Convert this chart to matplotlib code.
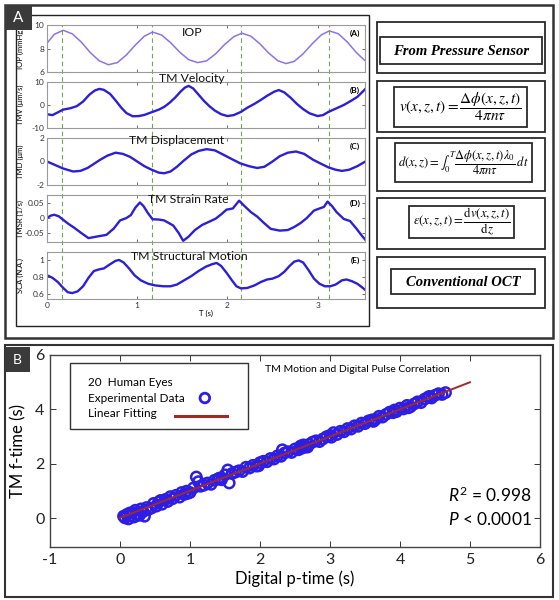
import matplotlib
matplotlib.use('Agg')
import matplotlib.pyplot as plt
from matplotlib.patches import Rectangle

plt.rcParams['font.family'] = ['Lato', 'DejaVu Sans']
plt.rcParams['mathtext.fontset'] = 'stix'
plt.rcParams['mathtext.rm'] = 'Lato'
plt.rcParams['mathtext.it'] = 'Lato:italic'
plt.rcParams['axes.unicode_minus'] = False

# ---------------- data: panel A ----------------
t_iop = [0.00, 0.08, 0.18, 0.28, 0.38, 0.48, 0.58, 0.68, 0.78, 0.88, 0.98, 1.08, 1.17, 1.27, 1.37, 1.47,
         1.57, 1.67, 1.77, 1.87, 1.97, 2.07, 2.16, 2.26, 2.36, 2.46, 2.56, 2.65, 2.74, 2.84, 2.94, 3.04,
         3.13, 3.23, 3.33, 3.43, 3.52]
iop = [8.45, 9.2, 9.55, 9.25, 8.55, 7.65, 6.95, 6.62, 6.8, 7.45, 8.3, 9.05, 9.4, 9.15, 8.5, 7.7,
       7.05, 6.8, 6.95, 7.55, 8.35, 9.0, 9.3, 9.05, 8.4, 7.6, 6.95, 6.72, 6.9, 7.55, 8.4, 9.15,
       9.5, 9.25, 8.55, 7.65, 7.0]

t_tmv = [0.00, 0.06, 0.12, 0.18, 0.26, 0.33, 0.40, 0.47, 0.53, 0.58, 0.63, 0.70, 0.76, 0.82, 0.88, 0.95,
         1.02, 1.08, 1.17, 1.24, 1.30, 1.36, 1.42, 1.48, 1.53, 1.57, 1.62, 1.68, 1.74, 1.80, 1.86, 1.93,
         2.00, 2.07, 2.15, 2.22, 2.30, 2.37, 2.44, 2.52, 2.57, 2.63, 2.70, 2.77, 2.84, 2.91, 3.00, 3.06,
         3.12, 3.20, 3.29, 3.37, 3.44, 3.50, 3.53]
tmv = [-4.0, -4.4, -3.2, -2.0, -1.4, -0.5, 1.5, 4.5, 6.3, 7.0, 6.6, 4.8, 2.0, -1.0, -3.5, -4.9,
       -4.8, -4.3, -3.0, -2.0, -0.8, 1.0, 3.2, 5.8, 7.6, 8.3, 7.2, 4.5, 1.8, -0.5, -2.4, -4.0,
       -4.8, -4.4, -3.0, -1.2, 0.5, 2.2, 4.0, 5.8, 6.5, 5.5, 3.2, 0.5, -1.8, -3.6, -4.8, -4.4,
       -3.0, -1.6, 0.0, 1.8, 3.5, 5.8, 7.0]

t_tmd = [0.00, 0.09, 0.18, 0.29, 0.37, 0.45, 0.52, 0.59, 0.67, 0.76, 0.84, 0.92, 1.00, 1.08, 1.16, 1.24,
         1.30, 1.37, 1.44, 1.52, 1.60, 1.68, 1.77, 1.86, 1.95, 2.05, 2.14, 2.24, 2.33, 2.41, 2.50, 2.58,
         2.67, 2.76, 2.85, 2.95, 3.04, 3.12, 3.20, 3.27, 3.35, 3.44, 3.53]
tmd = [0.0, -0.3, -0.6, -0.85, -0.8, -0.55, -0.2, 0.15, 0.5, 0.75, 0.65, 0.4, 0.0, -0.4, -0.7, -0.95,
       -1.0, -0.85, -0.45, 0.1, 0.6, 0.9, 1.05, 0.95, 0.6, 0.2, -0.15, -0.4, -0.55, -0.45, 0.0, 0.45,
       0.75, 0.85, 0.65, 0.15, -0.2, -0.5, -0.7, -0.8, -0.7, -0.4, 0.0]

t_tmsr = [0.00, 0.04, 0.08, 0.13, 0.18, 0.24, 0.30, 0.38, 0.46, 0.55, 0.66, 0.74, 0.81, 0.88, 0.93, 0.98,
          1.03, 1.07, 1.12, 1.17, 1.24, 1.30, 1.40, 1.46, 1.51, 1.57, 1.64, 1.72, 1.80, 1.87, 1.93, 1.99,
          2.06, 2.13, 2.19, 2.26, 2.33, 2.40, 2.48, 2.58, 2.67, 2.74, 2.81, 2.88, 2.96, 3.03, 3.07, 3.11,
          3.16, 3.21, 3.29, 3.36, 3.43, 3.48, 3.53]
tmsr = [0.0, 0.008, 0.011, 0.006, -0.006, -0.02, -0.032, -0.05, -0.067, -0.062, -0.056, -0.035, -0.008, 0.0, 0.01, 0.035,
        0.052, 0.04, 0.016, -0.004, -0.005, -0.008, -0.025, -0.05, -0.076, -0.062, -0.04, -0.023, -0.012, -0.002, 0.012, 0.028,
        0.032, 0.058, 0.04, 0.02, 0.005, -0.015, -0.036, -0.042, -0.04, -0.03, -0.017, 0.0, 0.025, 0.033, 0.037, 0.055,
        0.04, 0.02, -0.003, -0.01, -0.035, -0.055, -0.073]

t_sca = [0.00, 0.06, 0.12, 0.18, 0.23, 0.28, 0.34, 0.40, 0.46, 0.52, 0.58, 0.63, 0.70, 0.76, 0.80, 0.85,
         0.91, 0.97, 1.04, 1.12, 1.20, 1.29, 1.37, 1.44, 1.52, 1.60, 1.68, 1.76, 1.83, 1.88, 1.93, 1.99,
         2.05, 2.10, 2.15, 2.22, 2.30, 2.37, 2.44, 2.50, 2.57, 2.63, 2.69, 2.74, 2.79, 2.84, 2.90, 2.96,
         3.02, 3.08, 3.14, 3.20, 3.27, 3.32, 3.38, 3.44, 3.49, 3.53]
sca = [0.82, 0.79, 0.74, 0.67, 0.62, 0.61, 0.63, 0.69, 0.79, 0.87, 0.89, 0.9, 0.95, 0.99, 1.0, 0.97,
       0.9, 0.82, 0.76, 0.72, 0.7, 0.69, 0.69, 0.71, 0.76, 0.81, 0.87, 0.92, 0.95, 0.965, 0.93, 0.85,
       0.76, 0.69, 0.665, 0.67, 0.7, 0.74, 0.77, 0.78, 0.81, 0.86, 0.93, 0.98, 0.995, 0.97, 0.88, 0.78,
       0.72, 0.69, 0.69, 0.71, 0.76, 0.77, 0.75, 0.72, 0.68, 0.645]

pulse_times = [0.17, 1.16, 2.15, 3.13]

titles = ['IOP', 'TM Velocity', 'TM Displacement', 'TM Strain Rate', 'TM Structural Motion']
ylabels = ['IOP (mmHg)', 'TMV (\u03bcm/s)', 'TMD (\u03bcm)', 'TMSR (1/s)', 'SCA (N.A.)']
tags = ['(A)', '(B)', '(C)', '(D)', '(E)']
yticks = [[6, 8, 10], [-10, 0, 10], [-2, 0, 2], [-0.05, 0, 0.05], [0.6, 0.8, 1]]
yticklabels = [['6', '8', '10'], ['-10', '0', '10'], ['-2', '0', '2'],
               ['-0.05', '0', '0.05'], ['0.6', '0.8', '1']]
ylims = [(6, 10), (-10, 10), (-2, 2), (-0.08, 0.077), (0.54, 1.094)]
xticks_a = [0, 1, 2, 3]

box_texts = ['From Pressure Sensor',
             r'$v(x,z,t)=\dfrac{\Delta\phi(x,z,t)}{4\pi n\tau}$',
             r'$d(x,z)=\int_0^{T}\dfrac{\Delta\phi(x,z,t)\lambda_0}{4\pi n\tau}\,dt$',
             r'$\varepsilon(x,z,t)=\dfrac{\mathrm{d}v(x,z,t)}{\mathrm{d}z}$',
             'Conventional OCT']

# ---------------- data: panel B ----------------
p_time = [0.05, 0.07, 0.10, 0.12, 0.15, 0.18, 0.20, 0.22, 0.25, 0.28, 0.30, 0.33, 0.35, 0.38, 0.40, 0.45,
          0.48, 0.52, 0.55, 0.60, 0.65, 0.68, 0.72, 0.75, 0.80, 0.85, 0.88, 0.92, 0.95, 1.00, 1.05, 1.09,
          1.12, 1.15, 1.20, 1.25, 1.30, 1.35, 1.40, 1.45, 1.50, 1.54, 1.56, 1.60, 1.65, 1.70, 1.75, 1.80,
          1.85, 1.90, 1.95, 2.00, 2.05, 2.10, 2.15, 2.20, 2.25, 2.30, 2.32, 2.35, 2.40, 2.45, 2.50, 2.55,
          2.60, 2.62, 2.65, 2.70, 2.75, 2.80, 2.85, 2.90, 2.95, 3.00, 3.05, 3.10, 3.15, 3.20, 3.25, 3.30,
          3.35, 3.40, 3.45, 3.50, 3.55, 3.60, 3.65, 3.70, 3.75, 3.80, 3.85, 3.90, 3.95, 4.00, 4.05, 4.10,
          4.15, 4.20, 4.25, 4.30, 4.35, 4.40, 4.45, 4.50, 4.55, 4.60, 4.65, 0.14, 0.26, 0.58, 0.97, 1.42,
          1.98, 2.58, 2.68, 3.02, 3.62, 3.92, 4.12, 4.42]
f_time = [0.08, 0.02, 0.15, -0.02, 0.10, 0.22, 0.05, 0.30, 0.18, 0.12, 0.35, 0.25, 0.08, 0.40, 0.32, 0.38,
          0.55, 0.45, 0.60, 0.52, 0.70, 0.62, 0.80, 0.72, 0.85, 0.78, 0.95, 0.88, 1.00, 0.95, 1.12, 1.52,
          1.35, 1.18, 1.22, 1.30, 1.25, 1.40, 1.45, 1.42, 1.60, 1.78, 1.30, 1.65, 1.70, 1.75, 1.72, 1.88,
          1.85, 1.95, 1.92, 2.05, 2.10, 2.08, 2.20, 2.18, 2.30, 2.28, 2.52, 2.40, 2.45, 2.42, 2.55, 2.52,
          2.58, 2.70, 2.62, 2.72, 2.80, 2.85, 2.82, 2.92, 3.00, 3.05, 3.15, 3.08, 3.20, 3.18, 3.30, 3.28,
          3.40, 3.38, 3.50, 3.48, 3.58, 3.62, 3.63, 3.75, 3.72, 3.82, 3.90, 3.88, 3.92, 4.05, 4.02, 4.15,
          4.10, 4.20, 4.28, 4.25, 4.38, 4.45, 4.42, 4.52, 4.58, 4.55, 4.62, 0.20, 0.12, 0.66, 0.92, 1.48,
          1.93, 2.66, 2.62, 2.98, 3.56, 3.98, 4.06, 4.48]
fit_x = [0.0, 5.0]
fit_y = [0.02, 5.0]
xticks_b = [-1, 0, 1, 2, 3, 4, 5, 6]
yticks_b = [0, 2, 4, 6]

# ---------------- figure ----------------
W, H = 559, 600
fig = plt.figure(figsize=(W / 100, H / 100), dpi=100)


def px_axes(x0, y0, x1, y1, **kw):
    return fig.add_axes([x0 / W, 1 - y1 / H, (x1 - x0) / W, (y1 - y0) / H], **kw)


def px_rect(x0, y0, x1, y1, lw=1.0, ec='#222222', fc='none', z=1):
    fig.add_artist(Rectangle((x0 / W, 1 - y1 / H), (x1 - x0) / W, (y1 - y0) / H,
                             transform=fig.transFigure, lw=lw, ec=ec, fc=fc, zorder=z))


def px_text(x, y, s, **kw):
    fig.text(x / W, 1 - y / H, s, **kw)


# Panel frames
px_rect(5, 5, 553, 338, lw=1.8, ec='#333333')
px_rect(16, 15, 369, 326, lw=1.0, ec='#222222')
px_rect(5, 5, 32, 30, lw=0, fc='#3a3a3a', z=3)
px_text(18.5, 18, 'A', color='white', fontsize=11, ha='center', va='center', zorder=4)

px_rect(5, 345, 553, 597, lw=1.5, ec='#333333')
px_rect(5, 347, 30, 372, lw=0, fc='#3a3a3a', z=3)
px_text(17.5, 360, 'B', color='white', fontsize=10, ha='center', va='center', zorder=4)

# Panel A subplots
AX0, AX1 = 47, 364.5
rows = [(25, 72), (82, 128), (138, 185), (195, 242), (252, 299)]
xmax = 3.52

# dashed pulse markers spanning all subplots
ov = px_axes(AX0, rows[0][0], AX1, rows[-1][1])
ov.set_xlim(0, xmax)
ov.axis('off')
for pt in pulse_times:
    ov.axvline(pt, color='#79a255', lw=0.8, ls=(0, (4, 3)))

series = [(t_iop, iop), (t_tmv, tmv), (t_tmd, tmd), (t_tmsr, tmsr), (t_sca, sca)]
title_pos = [(192, 32), (192, 78), (177, 140), (188, 200), (189, 257)]
for i, ((tt, yy), (y0, y1)) in enumerate(zip(series, rows)):
    ax = px_axes(AX0, y0, AX1, y1)
    ax.set_facecolor('none')
    color = '#8577ea' if i == 0 else '#2b1fd8'
    lw = 1.1 if i == 0 else 1.7
    ax.plot(tt, yy, color=color, lw=lw)
    ax.set_xlim(0, xmax)
    ax.set_ylim(*ylims[i])
    ax.set_yticks(yticks[i])
    ax.set_yticklabels(yticklabels[i])
    ax.set_xticks(xticks_a)
    ax.tick_params(direction='in', length=2, width=0.5, labelsize=6, pad=2,
                   top=True, right=True, colors='#333333')
    if i < 4:
        ax.set_xticklabels([])
    for s in ax.spines.values():
        s.set_color('#9a9a9a')
        s.set_linewidth(0.8)
    ax.set_ylabel(ylabels[i], fontsize=5.5, labelpad=2)
    ax.yaxis.set_label_coords(-0.072, 0.5)
    px_text(title_pos[i][0], title_pos[i][1], titles[i], fontsize=8.8, ha='center', va='center',
            color='#111111', zorder=5)
    px_text(355, y0 + 8, tags[i], fontsize=6, fontweight='bold', ha='center', va='center',
            zorder=5)
    if i == 4:
        ax.set_xlabel('T (s)', fontsize=5.5, labelpad=1)

# Right side boxes
outer_boxes = [(22, 73), (81, 132), (138, 191), (198, 249), (257, 308)]
inner_boxes = [(380, 37, 542, 64), (394, 87, 527, 127), (395, 143, 532, 182),
               (409, 206, 514, 238), (391, 269, 535, 294)]
box_sizes = [10.5, 11.0, 9.0, 9.2, 10.5]
for j, ((oy0, oy1), (ix0, iy0, ix1, iy1)) in enumerate(zip(outer_boxes, inner_boxes)):
    px_rect(377, oy0, 545, oy1, lw=1.3, ec='#2a2a2a')
    px_rect(ix0, iy0, ix1, iy1, lw=1.3, ec='#2a2a2a')
    if j in (0, 4):
        px_text((ix0 + ix1) / 2, (iy0 + iy1) / 2 + 1, box_texts[j], family='Liberation Serif',
                style='italic', fontweight='bold', fontsize=box_sizes[j], ha='center', va='center')
    else:
        px_text((ix0 + ix1) / 2, (iy0 + iy1) / 2, box_texts[j], fontsize=box_sizes[j],
                ha='center', va='center')

# Panel B
axB = px_axes(50, 355, 540, 547)
axB.set_xlim(-1, 6)
axB.set_ylim(-1.05, 6)
axB.scatter(p_time, f_time, s=55, facecolors='none', edgecolors='#2d1ee6', linewidths=1.8, zorder=2)
axB.plot(fit_x, fit_y, color='#a3282a', lw=1.4, zorder=3)
axB.set_xticks(xticks_b)
axB.set_yticks(yticks_b)
axB.tick_params(direction='in', length=4, width=0.7, labelsize=11.5, top=True, right=True,
                colors='#333333', pad=4)
for lab in axB.get_xticklabels() + axB.get_yticklabels():
    lab.set_color('#222222')
for s in axB.spines.values():
    s.set_color('#444444')
    s.set_linewidth(1.0)
axB.set_xlabel('Digital p-time (s)', fontsize=12, labelpad=3)
axB.set_ylabel('TM f-time (s)', fontsize=12, labelpad=6)

# legend box
axB.add_patch(Rectangle((0.041, 0.615), 0.363, 0.343, transform=axB.transAxes, fill=False,
                        ec='#333333', lw=1.0, zorder=4))
axB.text(0.078, 0.859, '20  Human Eyes', transform=axB.transAxes, fontsize=8.5, va='center', zorder=5)
axB.text(0.078, 0.776, 'Experimental Data', transform=axB.transAxes, fontsize=8.5, va='center', zorder=5)
axB.text(0.078, 0.693, 'Linear Fitting', transform=axB.transAxes, fontsize=8.5, va='center', zorder=5)
axB.scatter([0.316], [0.776], s=48, facecolors='none', edgecolors='#2d1ee6', linewidths=2.0,
            transform=axB.transAxes, zorder=5)
axB.plot([0.255, 0.361], [0.682, 0.682], color='#a3282a', lw=2.2, transform=axB.transAxes, zorder=5)
axB.text(0.627, 0.927, 'TM Motion and Digital Pulse Correlation', transform=axB.transAxes,
         fontsize=7.5, ha='center', va='center')
axB.text(0.812, 0.271, r'$\mathit{R}^{2}$ = 0.998', transform=axB.transAxes, fontsize=12.5,
         va='center', math_fontfamily='custom')
axB.text(0.812, 0.141, r'$\mathit{P}$ < 0.0001', transform=axB.transAxes, fontsize=12.5,
         va='center', math_fontfamily='custom')

fig.savefig('out.png', dpi=100)
